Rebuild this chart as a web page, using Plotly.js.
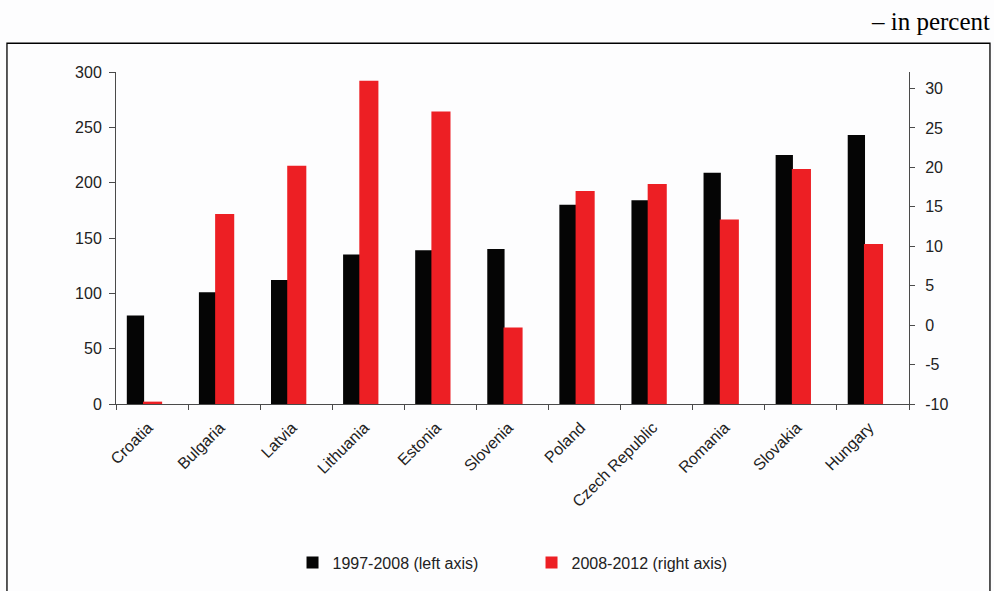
<!DOCTYPE html>
<html>
<head>
<meta charset="utf-8">
<script src="https://cdn.plot.ly/plotly-3.0.1.min.js"></script>
<style>
html,body{margin:0;padding:0;background:#fff;}
#chart{width:994px;height:591px;}
</style>
</head>
<body>
<div id="chart"></div>
<script>
var countries = ["Croatia","Bulgaria","Latvia","Lithuania","Estonia","Slovenia","Poland","Czech Republic","Romania","Slovakia","Hungary"];
var growth19972008 = [80, 101, 112, 135, 139, 140, 180, 184, 209, 225, 243];
var growth20082012 = [-9.7, 14.1, 20.2, 31.0, 27.1, -0.3, 17.0, 17.9, 13.4, 19.8, 10.3];
var seriesNames = ["1997-2008 (left axis)", "2008-2012 (right axis)"];
var leftTicks = [0, 50, 100, 150, 200, 250, 300];
var rightTicks = [-10, -5, 0, 5, 10, 15, 20, 25, 30];
var rightTickLabels = ["-10", "-5", "0", "5", "10", "15", "20", "25", "30"];
var rightAxisBottom = -10;

var fontFam = "Liberation Sans, Arial, sans-serif";
var txtCol = "#222";
var axCol = "#4a4a4a";

var traces = [
  {
    type: "bar", x: countries, y: growth19972008, name: seriesNames[0],
    marker: {color: "#050505"}, width: 0.24, offset: -0.35,
    yaxis: "y", hoverinfo: "x+y"
  },
  {
    // red bars rise from the bottom of the right axis (-10), as in the original
    type: "bar", x: countries,
    y: growth20082012.map(function(v){ return v - rightAxisBottom; }),
    base: rightAxisBottom, customdata: growth20082012,
    name: seriesNames[1],
    marker: {color: "#ed1f24"}, width: 0.265, offset: -0.125,
    yaxis: "y2", hovertemplate: "%{x}: %{customdata}<extra></extra>"
  }
];

var layout = {
  width: 994, height: 591,
  margin: {l: 116, r: 85, t: 72, b: 184},
  paper_bgcolor: "#fdfdfe", plot_bgcolor: "#fdfdfe",
  barmode: "overlay",
  showlegend: true,
  font: {family: fontFam, size: 16, color: txtCol},
  xaxis: {
    type: "category", range: [-0.5, 10.5],
    showline: true, linecolor: axCol, linewidth: 1,
    ticks: "outside", tickson: "boundaries", ticklen: 5, tickcolor: axCol,
    tickangle: -45, tickfont: {family: fontFam, size: 16, color: txtCol},
    ticklabelstandoff: 7, ticklabelshift: -4,
    showgrid: false, zeroline: false
  },
  yaxis: {
    range: [0, 300], tickvals: leftTicks,
    showline: true, linecolor: axCol, linewidth: 1,
    ticks: "outside", ticklen: 6, tickcolor: axCol,
    tickfont: {family: fontFam, size: 16, color: txtCol},
    ticklabelstandoff: 4,
    showgrid: false, zeroline: false
  },
  yaxis2: {
    overlaying: "y", side: "right",
    range: [-10, 32.1], tickvals: rightTicks, ticktext: rightTickLabels,
    showline: true, linecolor: axCol, linewidth: 1,
    ticks: "outside", ticklen: 5, tickcolor: axCol,
    tickfont: {family: fontFam, size: 16, color: txtCol},
    ticklabelstandoff: 7,
    showgrid: false, zeroline: false
  },
  legend: {
    orientation: "h", x: 0.2226, xanchor: "left", y: -0.478, yanchor: "middle",
    entrywidth: 194, entrywidthmode: "pixels",
    font: {family: fontFam, size: 16, color: txtCol},
    bgcolor: "rgba(0,0,0,0)"
  },
  shapes: [{
    type: "rect", xref: "paper", yref: "paper",
    x0: -0.1375, x1: 1.1021, y0: -0.7, y1: 1.0866,
    line: {color: "#000", width: 1.3}, fillcolor: "rgba(0,0,0,0)", layer: "below"
  }],
  annotations: [{
    text: "– in percent", xref: "paper", yref: "paper",
    x: 1.1043, xanchor: "right", y: 1.152, yanchor: "middle", showarrow: false,
    font: {family: "Liberation Serif, Times New Roman, serif", size: 25, color: "#000"}
  }]
};

Plotly.newPlot("chart", traces, layout, {displayModeBar: false, staticPlot: true});
</script>
</body>
</html>
